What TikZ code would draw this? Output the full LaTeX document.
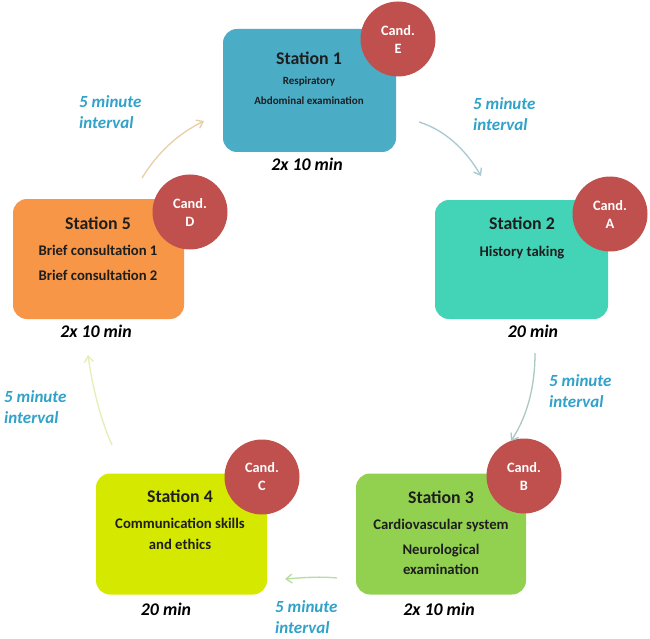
\documentclass[tikz,border=0pt]{standalone}
\usepackage{fontspec}
\setmainfont{Carlito}
\usetikzlibrary{arrows.meta}
\definecolor{cone}{HTML}{4BACC6}
\definecolor{ctwo}{HTML}{43D3B6}
\definecolor{cthree}{HTML}{92D050}
\definecolor{cfour}{HTML}{D4E800}
\definecolor{cfive}{HTML}{F79646}
\definecolor{cand}{HTML}{C0504D}
\definecolor{ivl}{HTML}{31A2C9}
\definecolor{txt}{HTML}{1E1E1E}
\definecolor{aone}{HTML}{E8CFA8}
\definecolor{atwo}{HTML}{A9C9D2}
\definecolor{athree}{HTML}{A8C9C4}
\definecolor{afour}{HTML}{B8DDA2}
\definecolor{afive}{HTML}{E6EEB4}
\begin{document}
\begin{tikzpicture}[x=1pt,y=-1pt,
  stationbox/.style={rounded corners=14pt, inner sep=0pt},
  candcircle/.style={circle, fill=cand, minimum size=75pt, inner sep=0pt,
    text=white, font=\bfseries\fontsize{14.3}{18}\selectfont, align=center},
  title/.style={text=txt, font=\bfseries\fontsize{17.8}{20}\selectfont, inner sep=0pt},
  sub/.style={text=txt, font=\bfseries\fontsize{14.7}{17}\selectfont, inner sep=0pt},
  subsmall/.style={text=txt, font=\bfseries\fontsize{11}{13}\selectfont, inner sep=0pt},
  timelbl/.style={text=black, font=\bfseries\itshape\fontsize{17.8}{20}\selectfont, inner sep=0pt},
  ivlbl/.style={text=ivl, font=\bfseries\itshape\fontsize{17}{21}\selectfont, align=left, anchor=west, inner sep=0pt},
  flow/.style={line width=1.3pt, -{Straight Barb[length=6pt,width=9pt]}}
]
\useasboundingbox (0,0) rectangle (650,639);
\fill[white] (0,0) rectangle (650,639);

% Station boxes
\node[stationbox, fill=cone, minimum width=173pt, minimum height=123pt] (s1) at (309.5,90.5) {};
\node[stationbox, fill=ctwo, minimum width=173pt, minimum height=119pt] (s2) at (521.5,259.5) {};
\node[stationbox, fill=cthree, minimum width=170pt, minimum height=121pt] (s3) at (441,534) {};
\node[stationbox, fill=cfour, minimum width=171pt, minimum height=121pt] (s4) at (181.5,534) {};
\node[stationbox, fill=cfive, minimum width=171pt, minimum height=120pt] (s5) at (98.5,259) {};

% Station texts
\node[title] (t1) at (309,58) {Station 1};
\node[subsmall] (t1a) at (309,82) {Respiratory};
\node[subsmall] (t1b) at (309,101) {Abdominal examination};

\node[title] (t2) at (522,223) {Station 2};
\node[sub] (t2a) at (522,253) {History taking};

\node[title] (t3) at (441,497) {Station 3};
\node[sub] (t3a) at (441,525) {Cardiovascular system};
\node[sub] (t3b) at (441,551) {Neurological};
\node[sub] (t3c) at (441,569) {examination};

\node[title] (t4) at (180,496) {Station 4};
\node[sub] (t4a) at (180,523) {Communication skills};
\node[sub] (t4b) at (180,544) {and ethics};

\node[title] (t5) at (98,223) {Station 5};
\node[sub] (t5a) at (98,250) {Brief consultation 1};
\node[sub] (t5b) at (98,275) {Brief consultation 2};

% Candidate circles
\node[candcircle] (ce) at (398,39) {Cand.\\E};
\node[candcircle] (ca) at (610,214) {Cand.\\A};
\node[candcircle] (cb) at (524,476) {Cand.\\B};
\node[candcircle] (cc) at (262,477) {Cand.\\C};
\node[candcircle] (cd) at (190,212) {Cand.\\D};

% Time labels
\node[timelbl] (m1) at (307,164) {2x 10 min};
\node[timelbl] (m2) at (533,331) {20 min};
\node[timelbl] (m3) at (439,609) {2x 10 min};
\node[timelbl] (m4) at (166,609) {20 min};
\node[timelbl] (m5) at (96,331) {2x 10 min};

% Interval labels
\node[ivlbl] (i1) at (79,112) {5 minute\\interval};
\node[ivlbl] (i2) at (473,114) {5 minute\\interval};
\node[ivlbl] (i3) at (549,391) {5 minute\\interval};
\node[ivlbl] (i4) at (275,617) {5 minute\\interval};
\node[ivlbl] (i5) at (4,407) {5 minute\\interval};

% Arrow end points
\coordinate (a1s) at (142,178);
\coordinate (a1e) at (204,121);
\coordinate (a2s) at (419,122);
\coordinate (a2e) at (481,176);
\coordinate (a3s) at (535,353);
\coordinate (a3e) at (511,441);
\coordinate (a4s) at (337,578);
\coordinate (a4e) at (285,579);
\coordinate (a5s) at (112,445);
\coordinate (a5e) at (88,355);

\draw[flow, aone] (a1s) .. controls (158,152) and (178,134) .. (a1e);
\draw[flow, atwo] (a2s) .. controls (445,130) and (466,150) .. (a2e);
\draw[flow, athree] (a3s) .. controls (535,385) and (528,415) .. (a3e);
\draw[flow, afour] (a4s) .. controls (318,576) and (300,578) .. (a4e);
\draw[flow, afive] (a5s) .. controls (100,418) and (92,385) .. (a5e);
\end{tikzpicture}
\end{document}
